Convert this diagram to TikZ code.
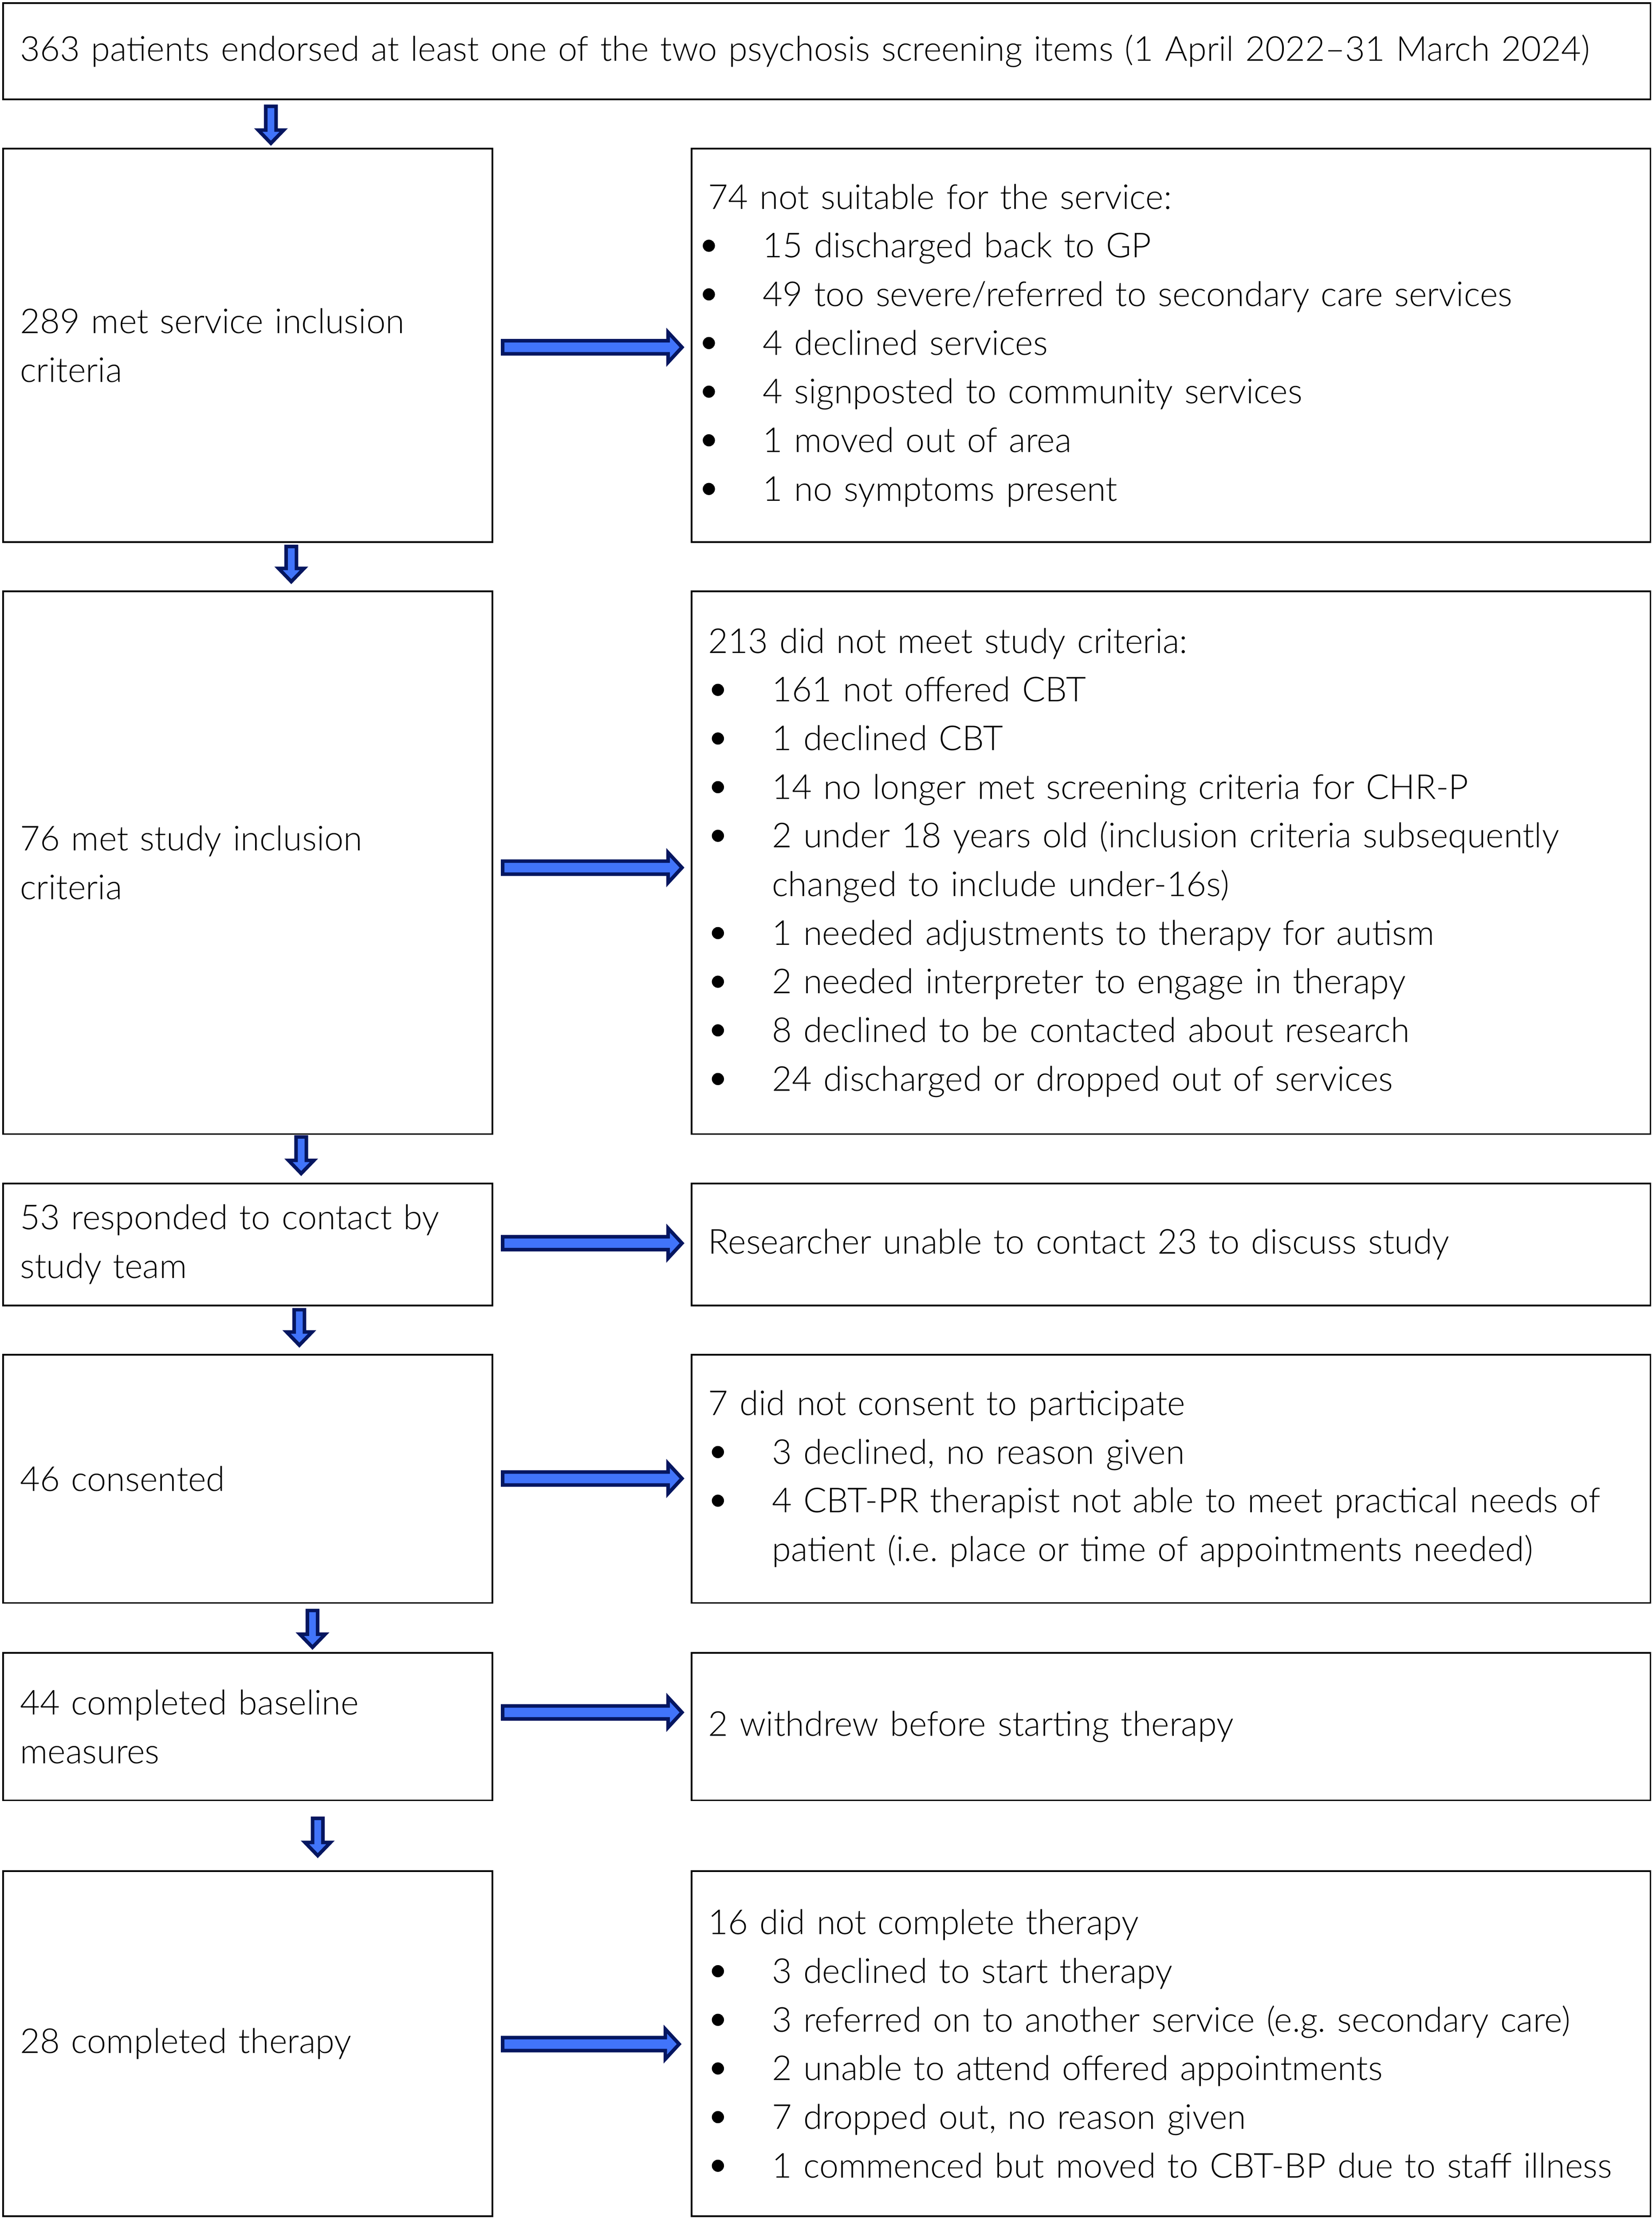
\documentclass[tikz,border=0pt]{standalone}
\usepackage{fontspec}
\setmainfont{Lato Light}
\usetikzlibrary{calc}
\definecolor{navy}{RGB}{5,22,96}
\definecolor{arrowblue}{RGB}{65,116,250}
\frenchspacing
\newcommand\dotmark{\tikz[baseline=0pt]{\fill[black] (4.3pt,8.4pt) circle[radius=4.3pt];}}
\newcommand\bA[1]{\makebox[38.5pt][l]{\hspace*{-4pt}\dotmark}#1}
\newcommand\bB[1]{\makebox[45pt][l]{\hspace*{2.4pt}\dotmark}#1}
\tikzset{
  box/.style={draw=black, line width=1.2pt, inner xsep=12pt, inner ysep=0pt,
    align=left, anchor=north west, font=\fontsize{24.3}{34.4}\selectfont},
  lbox/.style={box, minimum width=346pt, text width=322pt},
  rbox/.style={box, minimum width=678.2pt, text width=654.2pt},
  harr/.style={draw=navy, fill=arrowblue, line width=2.5pt, line join=miter, miter limit=10,
    to path={let \p1=(\tikztostart), \p2=(\tikztotarget) in
      (\x1,{\y1+4.6pt}) -- ({\x2-11.5pt},{\y1+4.6pt}) -- ({\x2-11.5pt},{\y1+10.6pt})
      -- ({\x2-1.7pt},\y1) -- ({\x2-11.5pt},{\y1-10.6pt}) -- ({\x2-11.5pt},{\y1-4.6pt})
      -- (\x1,{\y1-4.6pt}) -- cycle}},
  varr/.style={draw=navy, fill=arrowblue, line width=2.5pt, line join=miter, miter limit=10,
    to path={let \p1=(\tikztostart), \p2=(\tikztotarget) in
      ({\x1-3.65pt},{\y1-1.25pt}) -- ({\x1-3.65pt},{\y2+11pt}) -- ({\x1-9pt},{\y2+11pt})
      -- (\x1,{\y2+1.7pt}) -- ({\x1+9pt},{\y2+11pt}) -- ({\x1+3.65pt},{\y2+11pt})
      -- ({\x1+3.65pt},{\y1-1.25pt}) -- cycle}},
}
\begin{document}
\begin{tikzpicture}[x=1pt,y=1pt]
\useasboundingbox (0,0) rectangle (1168,-1568.6);

\node[box, minimum width=1165pt, text width=1141pt, minimum height=68.1pt] (b1) at (1.6,-1.6)
  {363 patients endorsed at least one of the two psychosis screening items (1 April 2022–31 March 2024)};

\node[lbox, minimum height=278.2pt] (b2l) at (1.6,-104.6) {289 met service inclusion\\criteria};
\node[rbox, minimum height=278.2pt] (b2r) at (488.4,-104.6)
  {74 not suitable for the service:\\
   \bA{15 discharged back to GP}\\
   \bA{49 too severe/referred to secondary care services}\\
   \bA{4 declined services}\\
   \bA{4 signposted to community services}\\
   \bA{1 moved out of area}\\
   \bA{1 no symptoms present}};

\node[lbox, minimum height=383.8pt] (b3l) at (1.6,-417.6) {76 met study inclusion\\criteria};
\node[rbox, minimum height=383.8pt] (b3r) at (488.4,-417.6)
  {213 did not meet study criteria:\\
   \bB{161 not offered CBT}\\
   \bB{1 declined CBT}\\
   \bB{14 no longer met screening criteria for CHR-P}\\
   \bB{2 under 18 years old (inclusion criteria subsequently}\\
   \hspace*{45pt}changed to include under-16s)\\
   \bB{1 needed adjustments to therapy for autism}\\
   \bB{2 needed interpreter to engage in therapy}\\
   \bB{8 declined to be contacted about research}\\
   \bB{24 discharged or dropped out of services}};

\node[lbox, minimum height=86.2pt] (b4l) at (1.6,-836.4) {53 responded to contact by\\study team};
\node[rbox, minimum height=86.2pt] (b4r) at (488.4,-836.4) {Researcher unable to contact 23 to discuss study};

\node[lbox, minimum height=175.6pt] (b5l) at (1.6,-957.4) {46 consented};
\node[rbox, minimum height=175.6pt] (b5r) at (488.4,-957.4)
  {7 did not consent to participate\\
   \bB{3 declined, no reason given}\\
   \bB{4 CBT-PR therapist not able to meet practical needs of}\\
   \hspace*{45pt}patient (i.e. place or time of appointments needed)};

\node[lbox, minimum height=104.2pt] (b6l) at (1.6,-1168.4) {44 completed baseline\\measures};
\node[rbox, minimum height=104.2pt] (b6r) at (488.4,-1168.4) {2 withdrew before starting therapy};

\node[lbox, minimum height=244.2pt] (b7l) at (1.6,-1322.6) {28 completed therapy};
\node[rbox, minimum height=244.2pt] (b7r) at (488.4,-1322.6)
  {16 did not complete therapy\\
   \bB{3 declined to start therapy}\\
   \bB{3 referred on to another service (e.g. secondary care)}\\
   \bB{2 unable to attend offered appointments}\\
   \bB{7 dropped out, no reason given}\\
   \bB{1 commenced but moved to CBT-BP due to staff illness}};

% down arrows
\path[varr] ([shift={(190pt,-3pt)}]b1.south west) to ([shift={(190pt,1.6pt)}]b2l.north west);
\path[varr] ([shift={(204.4pt,-1.2pt)}]b2l.south west) to ([shift={(204.4pt,4.6pt)}]b3l.north west);
\path[varr] ([shift={(211.4pt,-0.2pt)}]b3l.south west) to ([shift={(211.4pt,4.8pt)}]b4l.north west);
\path[varr] ([shift={(210.1pt,-1.2pt)}]b4l.south west) to ([shift={(210.1pt,4.4pt)}]b5l.north west);
\path[varr] ([shift={(219.4pt,-3.5pt)}]b5l.south west) to ([shift={(219.4pt,1.7pt)}]b6l.north west);
\path[varr] ([shift={(223.1pt,-10.9pt)}]b6l.south west) to ([shift={(223.1pt,8.6pt)}]b7l.north west);

% right arrows
\path[harr] ([shift={(6.7pt,-1.3pt)}]b2l.east) to ([xshift=-4.4pt]b2r.west);
\path[harr] ([shift={(6.7pt,-3.5pt)}]b3l.east) to ([xshift=-4.4pt]b3r.west);
\path[harr] ([shift={(6.7pt,0.9pt)}]b4l.east) to ([xshift=-4.4pt]b4r.west);
\path[harr] ([shift={(6.7pt,0.2pt)}]b5l.east) to ([xshift=-4.4pt]b5r.west);
\path[harr] ([shift={(6.7pt,10.1pt)}]b6l.east) to ([xshift=-4.4pt]b6r.west);
\path[harr] ([shift={(6.7pt,-0.3pt)}]b7l.east) to ([xshift=-6.4pt]b7r.west);
\end{tikzpicture}
\end{document}
